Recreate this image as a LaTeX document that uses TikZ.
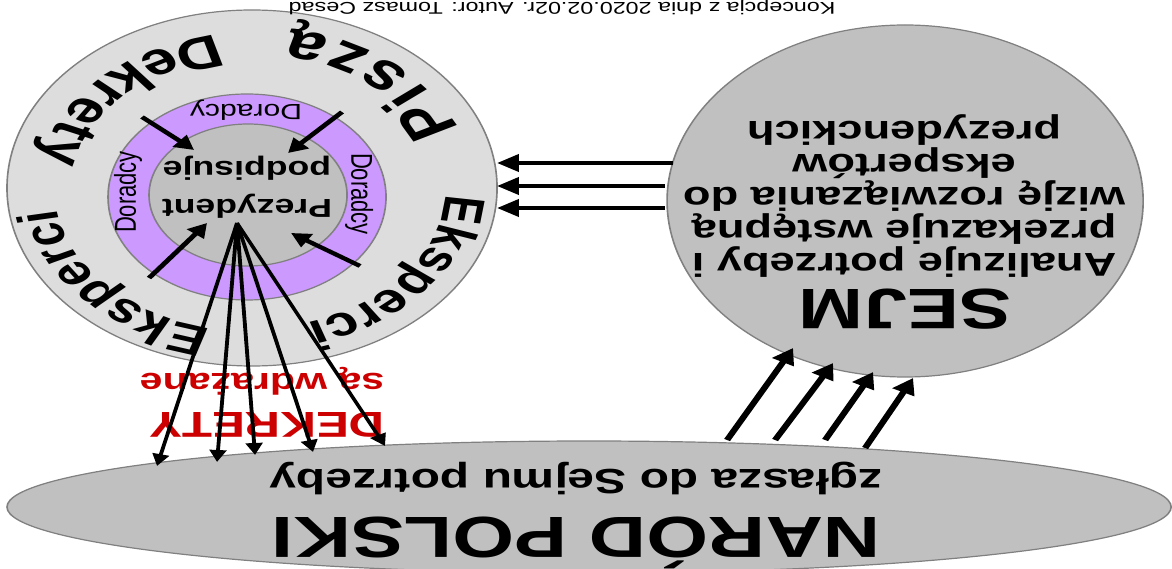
\documentclass[tikz,border=0pt]{standalone}
\usepackage{fontspec}
\setmainfont{Liberation Sans}
\usetikzlibrary{arrows.meta,decorations.text}

\definecolor{krag}{HTML}{DDDDDD}
\definecolor{fiolet}{HTML}{CC99FF}
\definecolor{szary}{HTML}{C0C0C0}
\definecolor{czerwony}{HTML}{CC0000}

\begin{document}
\begin{tikzpicture}[x=0.5pt,y=0.5pt]
    \useasboundingbox (0,0) rectangle (1172,568);
    \begin{scope}[transform canvas={xscale=1.37}, x=0.365pt, y=0.5pt,
        pole/.style={draw=black!50, line width=0.6pt},
        strz/.style={-{Triangle[length=8pt,width=8.5pt]}, line width=2.4pt},
        strzk/.style={-{Triangle[length=7pt,width=7.5pt]}, line width=2pt},
        wachlarz/.style={-{Triangle[length=6pt,width=6pt]}, line width=1.4pt},
        napis/.style={rotate=180, inner sep=0pt}]
        % kola
        \filldraw[pole, fill=krag] (252,380) ellipse [x radius=245, y radius=178]; % otoczenie
        \filldraw[pole, fill=fiolet] (247,371) ellipse [x radius=139, y radius=103]; % doradcy
        \filldraw[pole, fill=szary] (248,373) ellipse [x radius=99, y radius=71]; % prezydent
        \filldraw[pole, fill=szary] (905,367) ellipse [x radius=238, y radius=176]; % sejm
        \filldraw[pole, fill=szary] (589,61) ellipse [x radius=582, y radius=66]; % narod
        % napisy na kregu
        \path[decorate, decoration={text along path, text align={fit to path},
            text={|\bfseries\fontsize{26}{26}\selectfont|Piszą}}]
            (252,380) ++(21.5:222 and 161) arc [start angle=21.5, end angle=79.5, x radius=222, y radius=161];
        \path[decorate, decoration={text along path, text align={fit to path},
            text={|\bfseries\fontsize{23}{23}\selectfont|Dekrety}}]
            (252,380) ++(99.7:214 and 155) arc [start angle=99.7, end angle=170, x radius=214, y radius=155];
        \path[decorate, decoration={text along path, text align={fit to path},
            text={|\bfseries\fontsize{21}{21}\selectfont|Eksperci}}]
            (252,380) ++(-2.6:193.5 and 140.6) arc [start angle=-2.6, end angle=-73.2, x radius=193.5, y radius=140.6];
        \path[decorate, decoration={text along path, text align={fit to path},
            text={|\bfseries\fontsize{21}{21}\selectfont|Eksperci}}]
            (252,380) ++(258.2:197.5 and 143.5) arc [start angle=258.2, end angle=189.6, x radius=197.5, y radius=143.5];
        % doradcy
        \node[rotate=180, font=\fontsize{11}{12}\selectfont] (dor1) at (246,458) {Doradcy};
        \node[rotate=90, font=\fontsize{11}{12}\selectfont] (dor2) at (128,376) {Doradcy};
        \node[rotate=-90, font=\fontsize{11}{12}\selectfont] (dor3) at (359,374) {Doradcy};
        \node[napis, align=center, font=\bfseries\fontsize{13}{19}\selectfont] (prezydent) at (247,381) {Prezydent\\podpisuje};
        % sejm i narod
        \node[napis, anchor=base, font=\bfseries\fontsize{28.5}{30}\selectfont] (sejm) at (905,278) {SEJM};
        \node[napis, align=center, font=\bfseries\fontsize{16.5}{16.5}\selectfont] (analiza) at (904,372)
            {Analizuje potrzeby i\\przekazuje wstępną\\wizję rozwiązania do\\ekspertów\\prezydenckich};
        \node[napis, anchor=base, font=\bfseries\fontsize{29}{30}\selectfont] (narod) at (576,51) {NARÓD POLSKI};
        \node[napis, anchor=base, font=\bfseries\fontsize{17.5}{18}\selectfont] (zglasza) at (576,99) {zgłasza do Sejmu potrzeby};
        \node[napis, anchor=base, text=czerwony, font=\bfseries\fontsize{18}{18}\selectfont] (dekrety) at (267,155) {DEKRETY};
        \node[napis, text=czerwony, font=\bfseries\fontsize{15}{15}\selectfont] (wdrazane) at (262,187) {są wdrażane};
        \node[napis, anchor=base, font=\fontsize{8.5}{9}\selectfont] (podpis) at (562,565) {Koncepcja z dnia 2020.02.02r. Autor: Tomasz Cesad};
        % strzalki w kregu
        \foreach \n/\xa/\ya/\xb/\yb in {1/142/451/194/418, 2/342/456/288/415, 3/149/290/207/345, 4/360/302/291/335}{
            \coordinate (r\n) at (\xa,\ya);
            \coordinate (c\n) at (\xb,\yb);
            \draw[strzk] (r\n) -- (c\n);
        }
        % sejm -> krag
        \foreach \n/\xa/\y in {1/673/405, 2/665/382, 3/665/360}{
            \coordinate (s\n) at (\xa,\y);
            \coordinate (k\n) at (497,\y);
            \draw[strz] (s\n) -- (k\n);
        }
        % narod -> sejm
        \foreach \n/\xa/\ya/\xb/\yb in {1/727/128/793/220, 2/775/128/833/205, 3/825/128/873/196, 4/865/120/913/190}{
            \coordinate (z\n) at (\xa,\ya);
            \coordinate (w\n) at (\xb,\yb);
            \draw[strz] (z\n) -- (w\n);
        }
        % dekrety -> narod
        \coordinate (pz) at (237,345);
        \foreach \n/\x/\y in {1/157/102, 2/217/106, 3/255/113, 4/313/116, 5/385/122}{
            \coordinate (d\n) at (\x,\y);
            \draw[wachlarz] (pz) -- (d\n);
        }
    \end{scope}
\end{tikzpicture}
\end{document}
